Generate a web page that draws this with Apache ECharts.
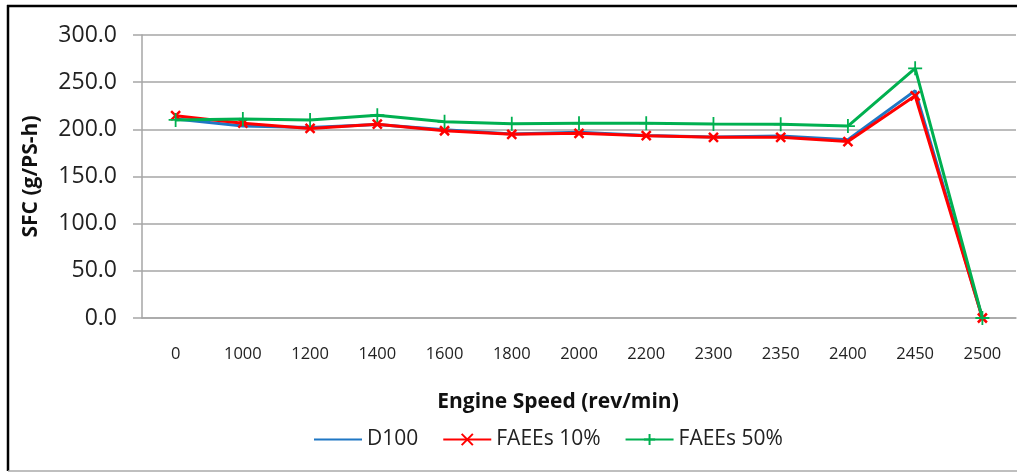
<!DOCTYPE html>
<html>
<head>
<meta charset="utf-8">
<script src="https://cdn.jsdelivr.net/npm/echarts@6/dist/echarts.min.js"></script>
<style>
  html, body { margin: 0; padding: 0; background: #fff; }
  #chart { width: 1017px; height: 472px; }
</style>
</head>
<body>
<div id="chart"></div>
<script>
// Engine speed categories (rev/min)
const speeds = ['0', '1000', '1200', '1400', '1600', '1800', '2000', '2200', '2300', '2350', '2400', '2450', '2500'];

// Specific fuel consumption, g/PS-h
const d100    = [211.0, 203.5, 202.0, 205.0, 199.5, 195.0, 197.0, 193.5, 192.0, 193.0, 189.0, 241.0, 0.0];
const faees10 = [214.5, 206.5, 201.0, 205.5, 198.5, 194.7, 195.8, 193.3, 191.5, 191.5, 187.0, 235.5, 0.0];
const faees50 = [210.0, 211.0, 210.0, 215.0, 208.0, 205.8, 206.4, 206.4, 205.7, 205.3, 203.5, 264.7, 0.0];

// y-axis ticks
const yMin = 0, yMax = 300, yStep = 50;

const FONT = '"Open Sans", "Noto Sans", sans-serif';
const GRID = '#a6a6a6';

const crossPath = 'path://M0,0L10,10M10,0L0,10';
const plusPath = 'path://M5,0L5,10M0,5L10,5';

const chart = echarts.init(document.getElementById('chart'), null, { renderer: 'canvas' });

chart.setOption({
  animation: false,
  backgroundColor: '#fff',
  textStyle: { fontFamily: FONT },
  grid: { left: 142, right: 1, top: 35, bottom: 154, containLabel: false },
  graphic: [
    { type: 'line', shape: { x1: 7, y1: 6, x2: 1017, y2: 6 }, style: { stroke: '#000', lineWidth: 2.5 }, silent: true },
    { type: 'line', shape: { x1: 8, y1: 5, x2: 8, y2: 471 }, style: { stroke: '#000', lineWidth: 2.5 }, silent: true },
    { type: 'line', shape: { x1: 8, y1: 471, x2: 1017, y2: 471 }, style: { stroke: '#aaa', lineWidth: 1.5 }, silent: true }
  ],
  legend: {
    left: 308,
    top: 424,
    itemWidth: 48,
    itemHeight: 14,
    itemGap: 24,
    textStyle: { fontFamily: FONT, fontSize: 21, color: '#222' },
    data: [
      { name: 'D100', itemStyle: { opacity: 0 } },
      'FAEEs 10%',
      'FAEEs 50%'
    ]
  },
  xAxis: {
    type: 'category',
    data: speeds,
    boundaryGap: true,
    name: 'Engine Speed (rev/min)',
    nameLocation: 'middle',
    nameGap: 74,
    nameTextStyle: { fontFamily: FONT, fontSize: 21, fontWeight: 'bold', color: '#111', padding: [0, 42, 0, 0] },
    axisLine: { lineStyle: { color: GRID, width: 1.5 } },
    axisTick: { show: false },
    axisLabel: { fontFamily: FONT, fontSize: 16.5, color: '#222', margin: 28 }
  },
  yAxis: {
    type: 'value',
    min: yMin,
    max: yMax,
    interval: yStep,
    name: 'SFC (g/PS-h)',
    nameLocation: 'middle',
    nameRotate: 90,
    nameGap: 100,
    nameTextStyle: { fontFamily: FONT, fontSize: 21, fontWeight: 'bold', color: '#111' },
    axisLine: { show: true, lineStyle: { color: GRID, width: 1.5 } },
    axisTick: { show: true, inside: false, length: 9, lineStyle: { color: GRID, width: 1.5 } },
    axisLabel: {
      fontFamily: FONT, fontSize: 23, color: '#222', margin: 25,
      formatter: v => v.toFixed(1)
    },
    splitLine: { lineStyle: { color: GRID, width: 1.5 } }
  },
  series: [
    {
      name: 'D100',
      type: 'line',
      data: d100,
      symbol: 'none',
      lineStyle: { color: '#1f77c4', width: 3 },
      itemStyle: { color: '#1f77c4' },
      z: 2
    },
    {
      name: 'FAEEs 10%',
      type: 'line',
      data: faees10,
      symbol: crossPath,
      symbolSize: 9,
      showAllSymbol: true,
      lineStyle: { color: '#ff0000', width: 3 },
      itemStyle: { color: 'rgba(0,0,0,0)', borderColor: '#ff0000', borderWidth: 2.5 },
      z: 3
    },
    {
      name: 'FAEEs 50%',
      type: 'line',
      data: faees50,
      symbol: plusPath,
      symbolSize: 14,
      showAllSymbol: true,
      lineStyle: { color: '#00b050', width: 3 },
      itemStyle: { color: 'rgba(0,0,0,0)', borderColor: '#00b050', borderWidth: 1.8 },
      z: 4
    }
  ]
});
</script>
</body>
</html>
